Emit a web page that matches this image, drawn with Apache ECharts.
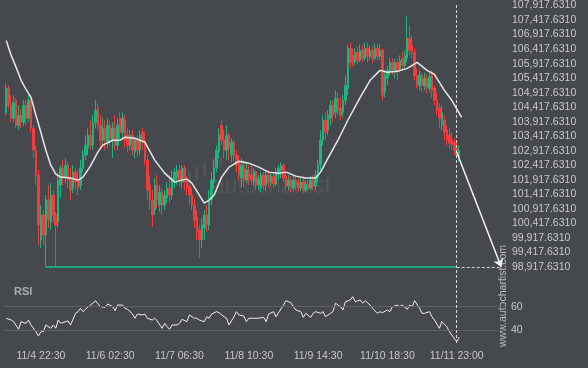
<!DOCTYPE html>
<html><head><meta charset="utf-8">
<script src="https://cdn.jsdelivr.net/npm/echarts@6/dist/echarts.min.js"></script>
<style>html,body{margin:0;padding:0;background:#45484c;}#c{width:588px;height:368px;}</style>
</head><body><div id="c"></div>
<script>
// ---- data ----
const nCats = 202;
const tickIdx = [14, 42, 70, 98, 126, 154, 182];
const tickLabels = ['11/4 22:30','11/6 02:30','11/7 06:30','11/8 10:30','11/9 14:30','11/10 18:30','11/11 23:00'];
const priceTicks = [98917.631,99417.631,99917.631,100417.631,100917.631,101417.631,101917.631,102417.631,102917.631,103417.631,103917.631,104417.631,104917.631,105417.631,105917.631,106417.631,106917.631,107417.631,107917.631];
const rsiTicks = [40, 60];
const supportLevel = 98917.631;
const nowIndex = 182;
const targetIndex = 200;
const projectionStart = 102869;
// candles: [open, close, high, low]
const ohlc = [
[104209,105067,105239,104140],[105067,104483,105170,104380],[104483,104037,104827,103900],[104037,104586,104827,103900],
[104655,103797,104724,103694],[103797,104140,104483,103625],[104140,103900,104380,103694],[103900,104483,104655,103762],
[104483,104037,104655,103797],[104037,104655,104827,103900],[104655,103694,104827,103556],[103694,102938,103797,102663],
[102938,102080,103110,101736],[102080,100363,102251,99676],[99847,100706,101050,99572],[100706,100019,100878,99676],
[100019,101221,101393,98920],[101221,100534,101736,100260],[100466,101393,101805,100191],[101393,100706,101564,100466],
[100706,100363,100809,98920],[100466,101908,102183,100260],[101736,102320,102423,101290],[102320,101977,102595,101736],
[101977,102423,102663,101805],[102423,101908,102526,101633],[101977,101564,102320,101221],[101633,102183,102423,101461],
[102183,101839,102320,101564],[101908,101633,102251,101393],[101702,102320,102595,101564],[102320,102766,102938,102183],
[102766,103110,103453,102595],[103007,103453,103694,102766],[103453,103110,103968,102938],[103110,103900,104140,102938],
[103900,104312,104655,103694],[104380,103797,104552,103625],[103797,103281,104140,103007],[103281,103694,104037,103110],
[103694,103281,103968,102938],[103213,103797,104037,103007],[103797,103350,103968,103110],[103281,103694,103900,102663],
[103694,103110,104140,102938],[103110,103797,104037,102938],[104037,103556,104243,103350],[103556,104037,104243,103281],
[103968,103281,104140,103007],[103453,103110,103694,102869],[103110,103453,103625,102938],[103453,102938,103625,102766],
[102869,103281,103350,102663],[103281,102938,103453,102698],[102938,103453,103625,102766],[103556,103281,103694,102938],
[103281,102595,103556,102423],[102595,101564,102766,101221],[101736,101221,102080,100878],[101221,100706,101564,100294],
[100878,101736,101977,100706],[101736,101221,102080,100947],[101050,101496,101736,100809],[101496,101050,101633,100706],
[101050,101393,101564,100878],[101290,101633,101839,101118],[101633,101393,102080,101118],[101393,101977,102251,101221],
[101908,102183,102320,101633],[101977,102251,102423,101736],[102251,101908,102423,101702],[101839,102320,102423,101633],
[102320,101839,102423,101564],[101908,101633,102045,101393],[101702,101393,101839,101050],[101393,101050,101633,100878],
[101050,100534,101290,100260],[100603,100122,100878,99847],[100191,99847,100363,99229],[99847,100363,100603,99572],
[100260,100706,100878,99847],[100706,100363,101050,100122],[100363,101290,101564,100191],[101221,101908,102183,101050],
[101839,102320,102595,101633],[102320,102938,103110,102183],[102869,103453,103694,102663],[103797,103281,103968,103110],
[103281,102938,103625,102663],[102938,103453,103797,102595],[103453,103007,103556,102595],[102766,103213,103350,102526],
[103213,102766,103281,102526],[102766,102423,102938,102183],[102526,102080,102766,101908],[101977,102423,102663,101667],
[102423,101908,102595,101667],[101908,102251,102526,101805],[102251,101977,102423,101736],[102080,101908,102423,101736],
[101839,102183,102320,101702],[102183,101736,102251,101564],[101736,101977,102080,101564],[101633,102080,102183,101496],
[102080,101736,102183,101564],[101736,102080,102251,101564],[102080,101839,102251,101633],[101839,102045,102183,101702],
[102045,101771,102148,101633],[101771,102183,102320,101702],[102080,102320,102423,101908],[102251,102423,102526,101977],
[102423,101977,102492,101839],[102045,101702,102183,101564],[101702,101908,102080,101564],[101908,101633,102045,101496],
[101633,101908,102045,101530],[101908,101736,102011,101564],[101839,101633,101977,101496],[101633,101839,101977,101530],
[101839,101564,101977,101461],[101564,101771,101908,101496],[101771,101633,101908,101530],[101633,101908,102045,101564],
[101908,101702,102080,101564],[101702,102080,102251,101564],[101977,102423,102595,101839],[102423,103281,103625,102251],
[103281,103968,104140,103110],[103968,103556,104243,103281],[103625,104140,104312,103453],[104037,104483,104655,103797],
[104483,104140,104655,103900],[104243,104724,104998,104037],[104724,104312,104930,104140],[104380,104140,104758,103968],
[104243,104655,104827,104071],[104655,105170,105514,104483],[105067,106441,106578,104827],[106441,105960,106647,105754],
[106200,105960,106441,105823],[105960,106303,106441,105857],[106303,106029,106509,105891],[106029,106372,106578,105960],
[106372,106097,106544,105960],[106097,106441,106647,106029],[106441,106166,106647,105960],[106166,106372,106544,106029],
[106372,106097,106509,105926],[106097,106441,106612,106029],[106441,106166,106612,106029],[106166,106372,106578,106029],
[106372,104827,106441,104655],[104930,105514,105685,104758],[105411,105685,105857,105170],[105617,105960,106097,105514],
[105960,105685,106097,105514],[105617,105960,106097,105411],[105960,105685,106097,105342],[105685,106029,106200,105617],
[106097,105857,106303,105685],[105857,106200,106372,105754],[106097,106784,107540,105960],[106784,106372,107231,106200],
[106544,106303,106887,106097],[106303,105514,106441,105342],[105514,105170,105754,105067],[105170,105514,105685,104998],
[105514,105170,105617,104930],[105136,105411,105617,104998],[105411,105067,105548,104895],[105067,105479,105617,104930],
[105617,104998,105685,104758],[105067,104655,105170,104483],[104655,104312,104930,104140],[104380,104037,104552,103694],
[103797,104243,104483,103625],[103968,103556,104140,103281],[103625,103281,103797,103110],[103453,103178,103694,103007],
[103281,103110,103556,102938],[103213,102938,103350,102766],[103007,102766,103213,102663],[102663,102938,103110,102526]
];
// moving average [index, value]
const maPoints = [[0,106716],[2,106200],[4,105788],[6,105342],[8,105033],[10,104758],[12,104140],[14,103556],[16,102938],[18,102423],
[20,102114],[22,102011],[26,101977],[29,101908],[31,102011],[34,102389],[37,102869],[39,103110],[43,103281],[46,103281],[48,103384],
[52,103350],[56,103213],[60,102595],[64,102148],[68,101839],[71,101908],[73,101942],[75,101805],[77,101530],[80,101118],[82,101221],
[84,101393],[87,102011],[90,102354],[94,102560],[98,102492],[102,102354],[106,102183],[110,102148],[113,102183],[117,102045],
[121,101977],[125,101977],[127,102183],[130,102663],[134,103281],[138,103968],[143,104758],[147,105342],[151,105685],[154,105617],
[158,105651],[162,105754],[166,105960],[170,105685],[173,105548],[177,104998],[180,104655],[184,104071]];
// RSI [index, value]
const rsiPoints = [[0,50.2],[2,48.7],[3,47.3],[5,40.9],[6,47.3],[8,45.9],[9,48.7],[10,44.5],[12,38.8],[13,35.2],[14,38.8],[15,38.8],
[16,44.5],[18,41.7],[19,44.5],[20,41.7],[21,48.7],[22,45.9],[24,47.3],[25,47.9],[26,44.5],[28,54.4],[29,55.8],[30,58.6],[31,55.8],
[32,57.8],[34,61.4],[35,62.9],[36,65.1],[38,60],[40,59.5],[41,62.3],[43,60],[44,56.6],[45,61.4],[47,61.4],[48,58.6],[49,57.8],
[51,53.8],[52,50.2],[53,53.8],[55,53.0],[56,53.8],[57,50.2],[59,48.7],[60,50.2],[61,47.9],[63,41.7],[64,45.9],[65,43.1],[66,40.9],
[67,44.5],[69,44.5],[70,45.9],[71,49.3],[73,47.3],[74,53.0],[76,50.2],[77,50.2],[78,48.7],[80,47.3],[81,51.5],[82,50.2],[83,53.8],
[85,55.8],[86,54.9],[88,51.5],[89,50.2],[90,44.5],[92,51.5],[93,55.8],[94,53.0],[96,52.1],[97,47.3],[98,50.2],[100,50.2],[102,50.2],
[104,51.0],[105,47.3],[106,53.8],[108,55.8],[109,51.5],[110,54.9],[112,61.4],[113,65.1],[115,63.4],[116,60],[117,57.2],[119,55.8],
[120,51.0],[121,54.4],[123,51.0],[124,54.4],[125,55.8],[127,54.4],[128,55.8],[129,51.5],[131,54.4],[132,55.8],[133,62.9],[135,60],
[136,57.2],[137,64.2],[139,65.7],[140,68.5],[141,64.2],[143,65.7],[144,62.9],[145,65.1],[147,61.4],[148,58.6],[150,54.4],[151,55.8],
[152,54.9],[154,57.2],[155,55.8],[156,60],[158,61.4],[159,60],[160,61.4],[162,57.8],[163,61.4],[164,60],[165,65.1],[167,58.6],
[168,54.4],[169,54.4],[171,55.8],[172,51.5],[173,48.7],[175,41.7],[176,47.3],[178,43.1],[179,38.8],[180,36.0],[182,30.4],[183,34.1]];

// ---- build ----
const cats = Array.from({length: nCats}, (_, i) => String(i));
const candleData = ohlc.map(d => [d[0], d[1], d[3], d[2]]);
const fmtPrice = v => Number(v).toLocaleString('en-US', {minimumFractionDigits: 4, maximumFractionDigits: 4});
const labelColor = '#c6c8cb';
const FONT = 'Liberation Sans, Arial, sans-serif';
const G = {left: 5, width: 500};

const chart = echarts.init(document.getElementById('c'), null, {renderer: 'canvas'});
chart.setOption({
  backgroundColor: '#45484c',
  animation: false,
  grid: [
    {left: G.left, width: G.width, top: 5, height: 262},
    {left: G.left, width: G.width, top: 289, height: 59},
    {left: G.left, width: G.width, top: 5, height: 338}
  ],
  xAxis: [
    {type: 'category', gridIndex: 0, data: cats, boundaryGap: true, axisLine: {show: false}, axisTick: {show: false}, axisLabel: {show: false}, splitLine: {show: false}},
    {type: 'category', gridIndex: 1, data: cats, boundaryGap: true, axisLine: {show: false}, axisTick: {show: false}, splitLine: {show: false},
      axisLabel: {interval: (i) => tickIdx.indexOf(i) >= 0, formatter: (v, i) => { const k = tickIdx.indexOf(i); return k >= 0 ? tickLabels[k] : ''; },
        color: labelColor, fontSize: 10.5, fontFamily: FONT, margin: 3}},
    {type: 'category', gridIndex: 2, data: cats, boundaryGap: true, show: false}
  ],
  yAxis: [
    {type: 'value', gridIndex: 0, position: 'right', min: priceTicks[0], max: priceTicks[priceTicks.length - 1], scale: true,
      splitLine: {show: false}, axisLine: {show: false}, axisTick: {show: false},
      axisLabel: {customValues: priceTicks, formatter: fmtPrice, color: labelColor, fontSize: 10.5, fontFamily: FONT, margin: 7}},
    {type: 'value', gridIndex: 1, position: 'right', min: 25, max: 75,
      splitLine: {show: false}, axisLine: {show: false}, axisTick: {show: false},
      axisLabel: {customValues: rsiTicks, color: labelColor, fontSize: 10.5, fontFamily: FONT, margin: 6}},
    {type: 'value', gridIndex: 2, min: 0, max: 1, show: false}
  ],
  series: [
    {type: 'candlestick', xAxisIndex: 0, yAxisIndex: 0, data: candleData, barWidth: 2,
      itemStyle: {color: '#1fb37e', color0: '#f23c3c', borderColor: '#1fb37e', borderColor0: '#f23c3c', borderWidth: 1},
      markLine: {silent: true, symbol: ['none', 'none'], label: {show: false}, animation: false,
        data: [
          [{coord: [16, supportLevel], lineStyle: {color: '#1fa577', width: 2, type: 'solid'}}, {coord: [nowIndex, supportLevel]}],
          [{coord: [nowIndex, supportLevel], lineStyle: {color: '#cfd1d4', width: 1, type: [3, 2]}}, {coord: [targetIndex, supportLevel]}],
          [{coord: [nowIndex, projectionStart], symbol: 'none', lineStyle: {color: '#f2f2f2', width: 1.5, type: 'solid'}}, {coord: [targetIndex, supportLevel], symbol: 'arrow', symbolSize: 8}]
        ]}},
    {type: 'line', xAxisIndex: 0, yAxisIndex: 0, data: maPoints, showSymbol: false, symbol: 'none', smooth: false, connectNulls: true,
      lineStyle: {color: '#e6e6e6', width: 1.5}},
    {type: 'line', xAxisIndex: 1, yAxisIndex: 1, data: rsiPoints, showSymbol: false, symbol: 'none', connectNulls: true,
      lineStyle: {color: '#eeeeee', width: 1},
      markLine: {silent: true, symbol: ['none', 'none'], label: {show: false}, lineStyle: {color: '#5d6064', width: 1, type: 'solid'},
        data: rsiTicks.map(v => ({yAxis: v}))}},
    {type: 'line', xAxisIndex: 2, yAxisIndex: 2, data: [[0, 0]], showSymbol: false, symbol: 'none', lineStyle: {opacity: 0},
      markLine: {silent: true, symbol: ['none', 'none'], label: {show: false}, lineStyle: {color: '#d6d8db', width: 1, type: [3, 2]},
        data: [{xAxis: nowIndex}]}}
  ],
  graphic: [
    {type: 'text', left: 14, top: 286, style: {text: 'RSI', fill: '#a9acb0', font: 'bold 11px ' + FONT}},
    {type: 'text', x: 212, y: 175, silent: true, style: {text: 'autochartist', fill: 'rgba(255,255,255,0.07)', font: '23px ' + FONT}},
    {type: 'rect', silent: true, shape: {x: 188, y: 172, width: 3, height: 10}, style: {fill: 'rgba(255,255,255,0.07)'}},
    {type: 'rect', silent: true, shape: {x: 195, y: 167, width: 3, height: 13}, style: {fill: 'rgba(255,255,255,0.07)'}},
    {type: 'rect', silent: true, shape: {x: 203, y: 163, width: 3, height: 13}, style: {fill: 'rgba(255,255,255,0.07)'}},
    {type: 'rect', silent: true, shape: {x: 212, y: 158, width: 3, height: 11}, style: {fill: 'rgba(255,255,255,0.07)'}},
    {type: 'rect', silent: true, shape: {x: 219, y: 157, width: 3, height: 10}, style: {fill: 'rgba(255,255,255,0.07)'}},
    {type: 'text', x: 503, y: 296, rotation: Math.PI / 2, silent: true,
      style: {text: 'www.autochartist.com', fill: '#b9bcc0', font: '10.5px ' + FONT, textAlign: 'center', textVerticalAlign: 'middle'}}
  ]
});
</script></body></html>
